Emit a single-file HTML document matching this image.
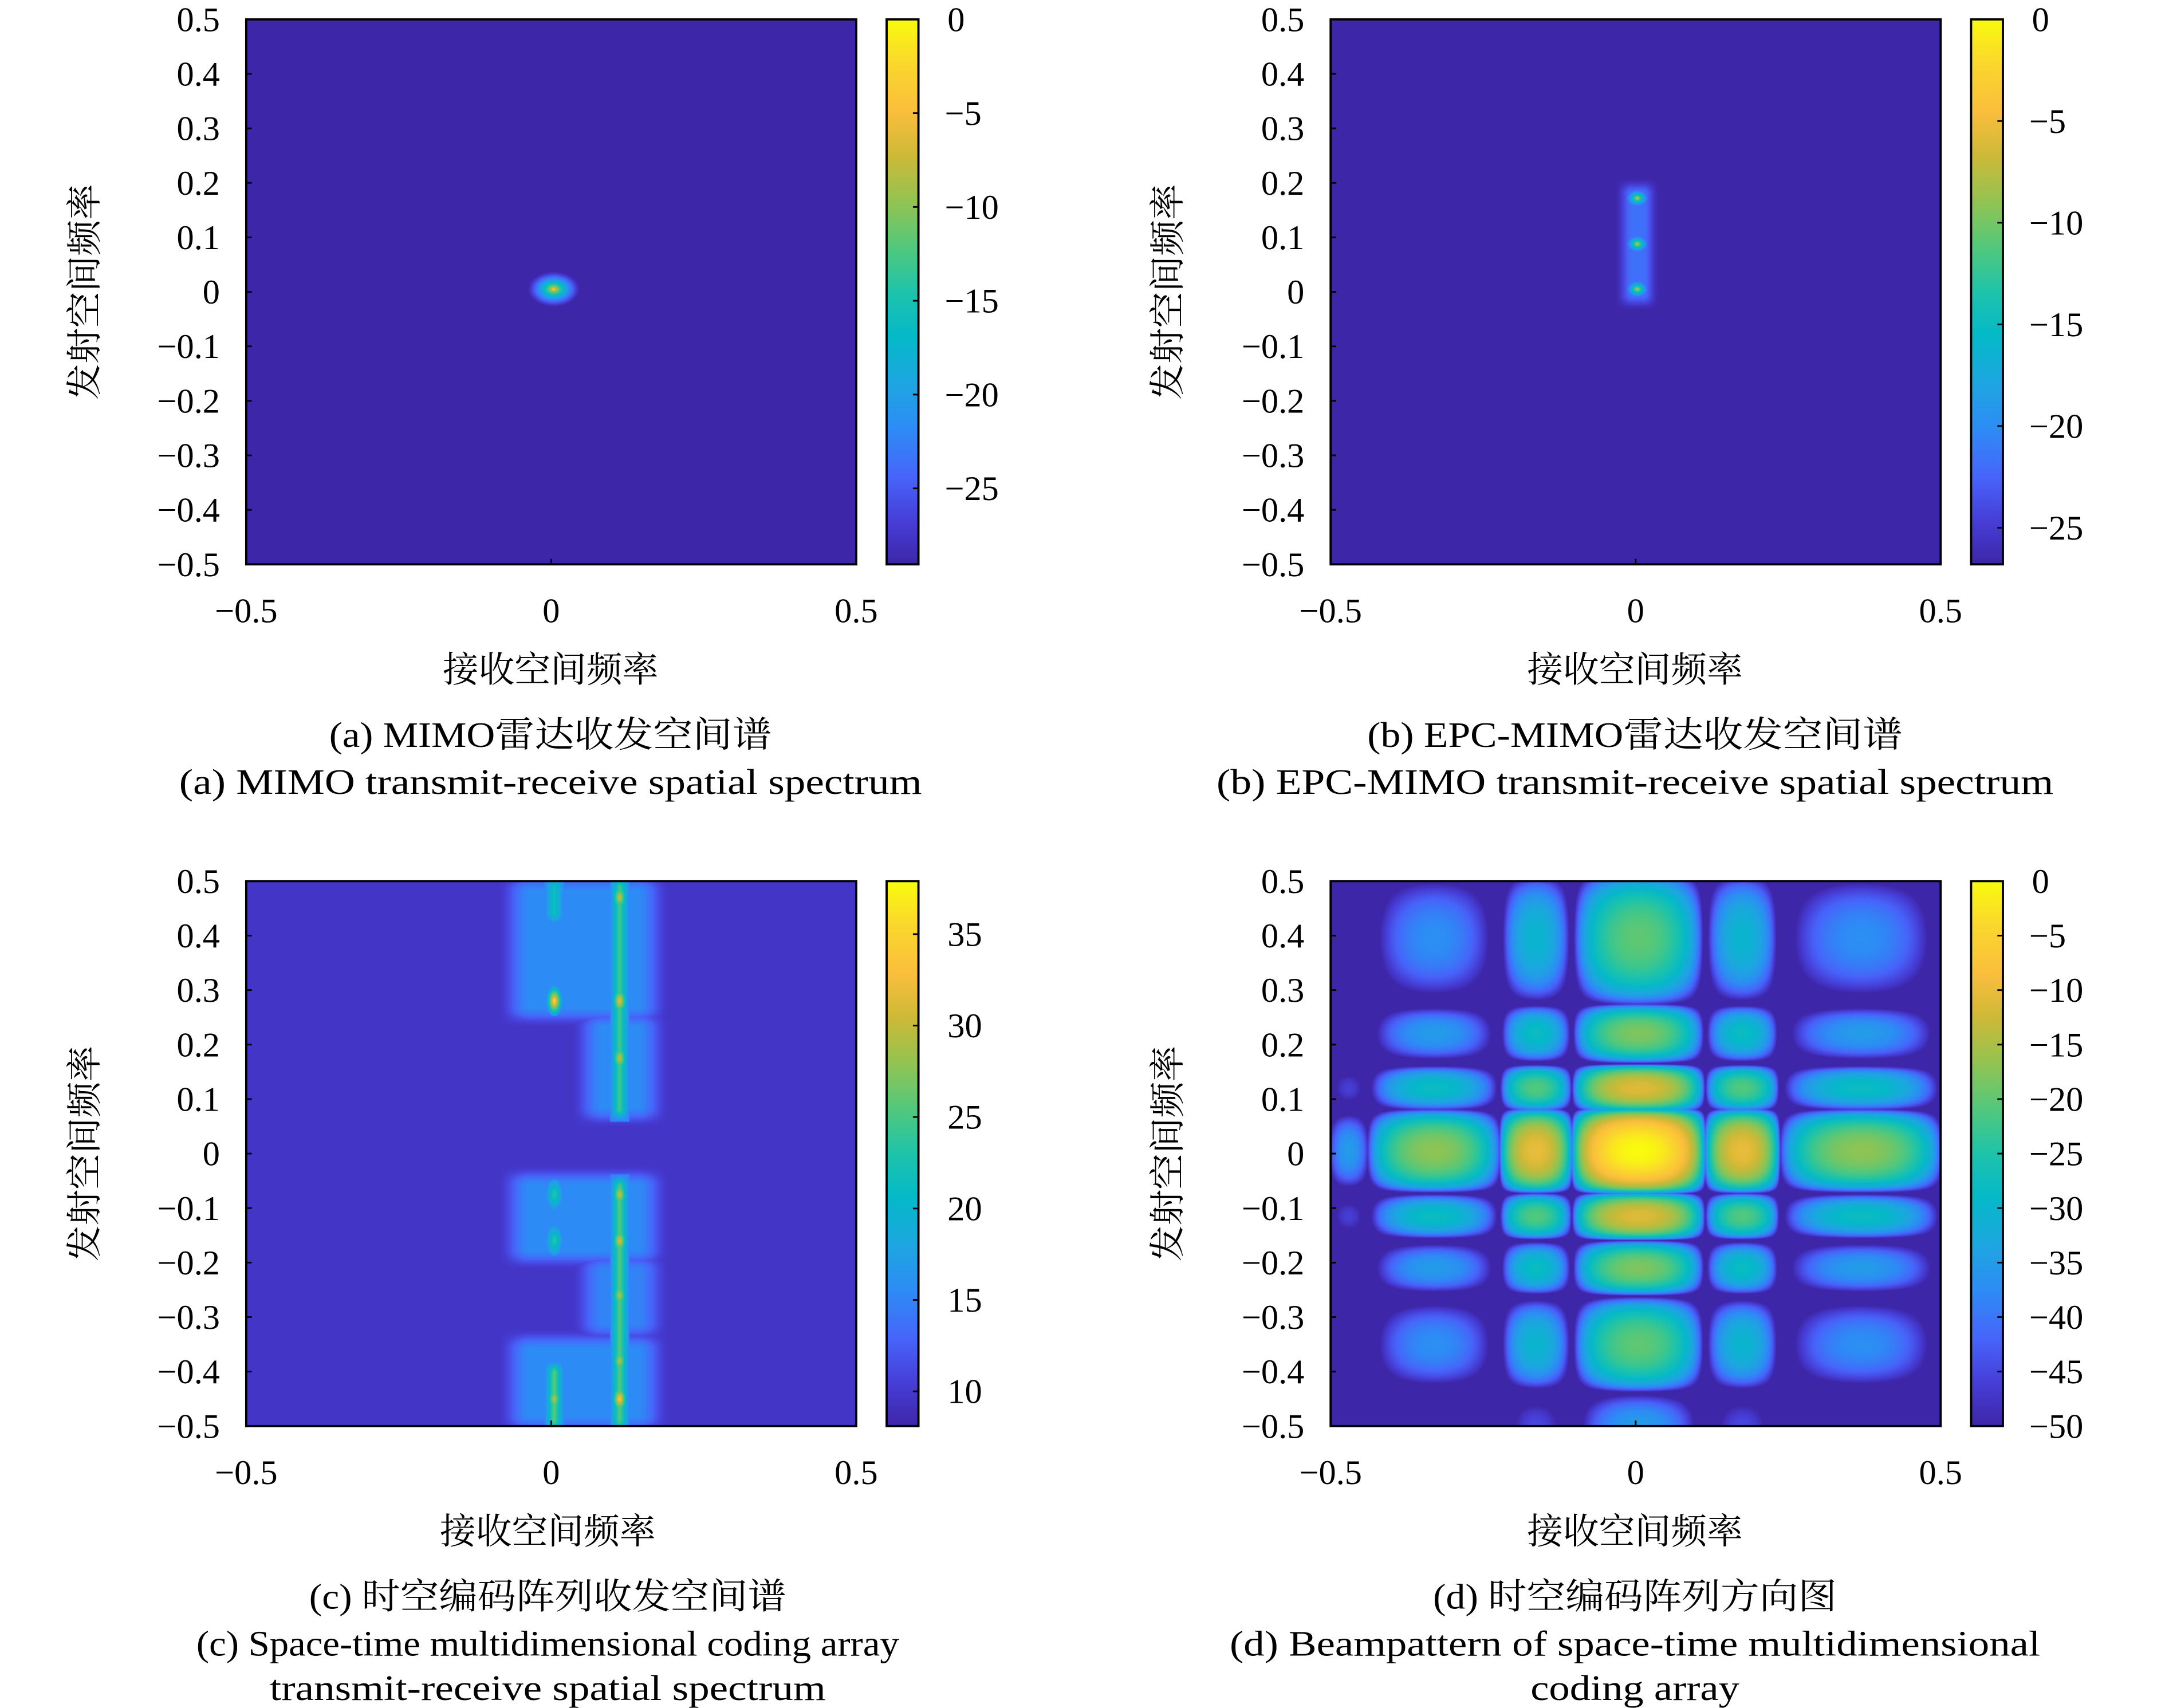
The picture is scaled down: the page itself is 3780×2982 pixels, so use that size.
<!DOCTYPE html>
<html><head><meta charset="utf-8">
<style>
html,body{margin:0;padding:0;background:#fff;}
#wrap{position:relative;width:3780px;height:2982px;overflow:hidden;background:#fff;}
canvas{position:absolute;image-rendering:auto;}
svg{position:absolute;left:0;top:0;}
text{font-family:"Liberation Serif","Noto Serif CJK SC",serif;fill:#000;}
</style></head>
<body>
<div id="wrap">
<canvas id="ca"></canvas>
<canvas id="cb"></canvas>
<canvas id="cc"></canvas>
<canvas id="cd"></canvas>
<svg id="svg" width="3780" height="2982" viewBox="0 0 1565.2 1234.8" preserveAspectRatio="none">
<defs><linearGradient id="parula" x1="0" y1="1" x2="0" y2="0"></linearGradient></defs>
<g id="layer"></g>
</svg>
</div>
<script>
// ---- chart data ----
const xTicks = [-0.5, 0, 0.5];
const yTicks = [0.5,0.4,0.3,0.2,0.1,0,-0.1,-0.2,-0.3,-0.4,-0.5];
const cbTicksA = [0,-5,-10,-15,-20,-25];
const cbTicksB = [0,-5,-10,-15,-20,-25];
const cbTicksC = [35,30,25,20,15,10];
const cbTicksD = [0,-5,-10,-15,-20,-25,-30,-35,-40,-45,-50];
const cbRangeA = [-29.05, 0];
const cbRangeB = [-26.8, 0];
const cbRangeC = [8.1, 37.9];
const cbRangeD = [-50, 0];
// panel a peaks
const peakAx = [0.004];
const peakAy = [0.005];
const peakAv = [0];
// panel b peaks
const peakBx = [0.003, 0.003, 0.003];
const peakBy = [0.005, 0.088, 0.172];
const peakBv = [-3, -3, -3];
// panel c: halo blocks, lines, dots
const blockX0 = [-0.06, 0.06, -0.06, 0.06, -0.06];
const blockX1 = [0.166, 0.166, 0.166, 0.166, 0.166];
const blockY0 = [0.25, 0.066, -0.195, -0.33, -0.5];
const blockY1 = [0.5, 0.25, -0.04, -0.195, -0.34];
const blockV = [15.5, 15.5, 15.5, 15, 15.5];
const lineX = [0.112, 0.112, 0.005, 0.005];
const lineY0 = [0.07, -0.5, 0.43, -0.5];
const lineY1 = [0.5, -0.05, 0.5, -0.39];
const lineV = [25, 26, 22, 26];
const dotX = [0.005, 0.005, 0.005, 0.112, 0.112, 0.112, 0.112, 0.112, 0.112, 0.112, 0.005, 0.112];
const dotY = [0.28, -0.075, -0.16, 0.28, 0.175, -0.075, -0.16, -0.26, -0.45, 0.47, -0.45, -0.38];
const dotV = [36, 24, 24, 33, 31, 31, 32, 30, 35, 31, 30, 30];
// panel d: separable lobes
const lobeXc = [-0.47, -0.33, -0.163, 0.005, 0.175, 0.37];
const lobeXhw = [0.04, 0.115, 0.062, 0.112, 0.064, 0.14];
const lobeXv = [-35, -17, -10, 0, -10, -17];
const lobeYc = [0.395, 0.22, 0.12, 0.005, -0.115, -0.21, -0.35, -0.5];
const lobeYhw = [0.13, 0.057, 0.045, 0.08, 0.045, 0.053, 0.092, 0.07];
const lobeYv = [-20, -18, -11, 0, -11, -18, -20, -35];

// ---- colormap ----
const cmT = [0,0.08,0.16,0.25,0.33,0.42,0.5,0.58,0.67,0.75,0.83,0.92,1];
const cmC = [[62,38,168],[70,62,215],[71,100,250],[45,140,245],[30,165,225],[5,185,200],[30,195,170],[80,200,125],[150,195,80],[205,185,55],[250,190,60],[250,215,45],[249,251,14]];
function cmap(t){t=Math.max(0,Math.min(1,t));for(let i=1;i<cmT.length;i++){if(t<=cmT[i]){const f=(t-cmT[i-1])/(cmT[i]-cmT[i-1]);const a=cmC[i-1],b=cmC[i];return [a[0]+(b[0]-a[0])*f,a[1]+(b[1]-a[1])*f,a[2]+(b[2]-a[2])*f];}}return cmC[cmC.length-1];}
const grad=document.getElementById('parula');
cmT.forEach((t,i)=>{const s=document.createElementNS('http://www.w3.org/2000/svg','stop');s.setAttribute('offset',t);s.setAttribute('stop-color','rgb('+cmC[i].join(',')+')');grad.appendChild(s);});

const S = 3780/1565.2;
const panels = [
 {id:'a',cv:'ca',x0:178,x1:619,y0:14,y1:408,cbx:641,range:cbRangeA,ticks:cbTicksA,xl:398,cap1:'(a) MIMO雷达收发空间谱',cap2:'(a) MIMO transmit-receive spatial spectrum',cap3:null,ylx:70,c1w:320,c2w:537,c3w:0},
 {id:'b',cv:'cb',x0:962,x1:1403,y0:14,y1:408,cbx:1425,range:cbRangeB,ticks:cbTicksB,xl:1182,cap1:'(b) EPC-MIMO雷达收发空间谱',cap2:'(b) EPC-MIMO transmit-receive spatial spectrum',cap3:null,ylx:853,c1w:387,c2w:605,c3w:0},
 {id:'c',cv:'cc',x0:178,x1:619,y0:637,y1:1031,cbx:641,range:cbRangeC,ticks:cbTicksC,xl:396,cap1:'(c) 时空编码阵列收发空间谱',cap2:'(c) Space-time multidimensional coding array',cap3:'transmit-receive spatial spectrum',ylx:70,c1w:345,c2w:508,c3w:402},
 {id:'d',cv:'cd',x0:962,x1:1403,y0:637,y1:1031,cbx:1425,range:cbRangeD,ticks:cbTicksD,xl:1182,cap1:'(d) 时空编码阵列方向图',cap2:'(d) Beampattern of space-time multidimensional',cap3:'coding array',ylx:853,c1w:292,c2w:586,c3w:151}
];

function valA(x,y){let v=cbRangeA[0];for(let i=0;i<peakAx.length;i++){const r=Math.hypot((x-peakAx[i])/0.042,(y-peakAy[i])/0.032);v=Math.max(v,peakAv[i]-29*Math.pow(r,0.55));}return v;}
function ss(e0,e1,t){const u=Math.max(0,Math.min(1,(t-e0)/(e1-e0)));return u*u*(3-2*u);}
function valB(x,y){let v=cbRangeB[0];
 const f=ss(-0.035,-0.005,x)*(1-ss(0.012,0.04,x))*ss(-0.035,-0.005,y)*(1-ss(0.18,0.21,y));
 v=Math.max(v,cbRangeB[0]+5*f);
 for(let i=0;i<peakBx.length;i++){const r=Math.hypot((x-peakBx[i])/0.025,(y-peakBy[i])/0.022);v=Math.max(v,peakBv[i]-24*Math.pow(r,0.55));}
 return v;}
function valC(x,y){const bg=9.6;let v=bg;
 for(let i=0;i<blockX0.length;i++){const f=ss(blockX0[i]-0.03,blockX0[i]+0.025,x)*(1-ss(blockX1[i]-0.025,blockX1[i]+0.03,x))*ss(blockY0[i]-0.02,blockY0[i]+0.02,y)*(1-ss(blockY1[i]-0.02,blockY1[i]+0.02,y));v=Math.max(v,bg+(blockV[i]-bg)*f);}
 for(let i=0;i<lineX.length;i++){const d=Math.abs(x-lineX[i]);const f=Math.max(0,1-d/0.016)*ss(lineY0[i]-0.012,lineY0[i]+0.012,y)*(1-ss(lineY1[i]-0.012,lineY1[i]+0.012,y));if(f>0)v=Math.max(v,15+(lineV[i]-15)*f);}
 for(let i=0;i<dotX.length;i++){const r=Math.hypot((x-dotX[i])/0.013,(y-dotY[i])/0.028);if(r<1)v=Math.max(v,16+(dotV[i]-16)*(1-r));}
 return v;}
function lobe(c,hw,pv,t){let best=-200;for(let i=0;i<c.length;i++){const d=Math.abs(t-c[i])/hw[i];if(d<1){const g=pv[i]+28*Math.log10(Math.max(1e-6,Math.cos(Math.PI/2*d)));best=Math.max(best,g);}}return best;}
function valD(x,y){const v=lobe(lobeXc,lobeXhw,lobeXv,x)+lobe(lobeYc,lobeYhw,lobeYv,y);return Math.max(-50,v);}
const fns={a:valA,b:valB,c:valC,d:valD};

const layer=document.getElementById('layer');
const NS='http://www.w3.org/2000/svg';
function el(tag,attrs,parent){const e=document.createElementNS(NS,tag);for(const k in attrs)e.setAttribute(k,attrs[k]);(parent||layer).appendChild(e);return e;}
function fmt(v){if(v===0)return '0';return (v<0?'−':'')+String(Math.abs(v));}

panels.forEach(p=>{
 const W=p.x1-p.x0,H=p.y1-p.y0;
 const cv=document.getElementById(p.cv);
 cv.width=W*2;cv.height=H*2;
 cv.style.left=(p.x0*S)+'px';cv.style.top=(p.y0*S)+'px';cv.style.width=(W*S)+'px';cv.style.height=(H*S)+'px';
 const ctx=cv.getContext('2d');const img=ctx.createImageData(cv.width,cv.height);const f=fns[p.id];
 const lo=p.range[0],hi=p.range[1];
 for(let j=0;j<cv.height;j++){const y=0.5-(j+0.5)/cv.height;for(let i=0;i<cv.width;i++){const x=-0.5+(i+0.5)/cv.width;const c=cmap((f(x,y)-lo)/(hi-lo));const k=(j*cv.width+i)*4;img.data[k]=c[0];img.data[k+1]=c[1];img.data[k+2]=c[2];img.data[k+3]=255;}}
 ctx.putImageData(img,0,0);
 const g=el('g',{});
 
 
 const sx=v=>p.x0+(v+0.5)*W, sy=v=>p.y0+(0.5-v)*H;
 const fr=el('rect',{x:p.x0,y:p.y0,width:W,height:H,fill:'none',stroke:'#000','stroke-width':1.6},g);
 
 
 yTicks.forEach(v=>{
  const t=el('line',{x1:p.x0,x2:p.x0+4,y1:sy(v),y2:sy(v),stroke:'#000','stroke-width':1.2},g);
  
  
  const lb=el('text',{x:p.x0-19,y:sy(v)+8.5,'text-anchor':'end','font-size':25},g);lb.textContent=fmt(v);
  
  
 });
 xTicks.forEach(v=>{
  const t=el('line',{x1:sx(v),x2:sx(v),y1:p.y1,y2:p.y1-4,stroke:'#000','stroke-width':1.2},g);
  
  
  const lb=el('text',{x:sx(v),y:p.y1+42,'text-anchor':'middle','font-size':25},g);lb.textContent=fmt(v);
  
  
 });
 const xl=el('text',{x:p.xl,y:p.y1+85,'text-anchor':'middle','font-size':26},g);xl.textContent='接收空间频率';
 
 
 const ymid=(p.y0+p.y1)/2;
 const yl=el('text',{x:p.ylx,y:ymid,'text-anchor':'middle','font-size':26,transform:'rotate(-90 '+(p.ylx)+' '+ymid+')'},g);yl.textContent='发射空间频率';
 
 
 const cb=el('rect',{x:p.cbx,y:p.y0,width:23,height:H,fill:'url(#parula)',stroke:'#000','stroke-width':1.6},g);
 
 
 const cy=v=>p.y1-(v-lo)/(hi-lo)*H;
 p.ticks.forEach(v=>{
  const t=el('line',{x1:p.cbx+23,x2:p.cbx+19,y1:cy(v),y2:cy(v),stroke:'#000','stroke-width':1.2},g);
  
  
  const lb=el('text',{x:p.cbx+(v<0?42:44),y:cy(v)+8.5,'text-anchor':'start','font-size':25},g);lb.textContent=fmt(v);
  
  
 });
 const c1=el('text',{x:p.xl,y:p.y1+132,'text-anchor':'middle','font-size':26,textLength:p.c1w,lengthAdjust:'spacingAndGlyphs'},g);c1.textContent=p.cap1;
 
 
 const c2=el('text',{x:p.xl,y:p.y1+166,'text-anchor':'middle','font-size':26,textLength:p.c2w,lengthAdjust:'spacingAndGlyphs'},g);c2.textContent=p.cap2;
 
 
 if(p.cap3){const c3=el('text',{x:p.xl,y:p.y1+198,'text-anchor':'middle','font-size':26,textLength:p.c3w,lengthAdjust:'spacingAndGlyphs'},g);c3.textContent=p.cap3;
  
  }
});
</script>
</body></html>
